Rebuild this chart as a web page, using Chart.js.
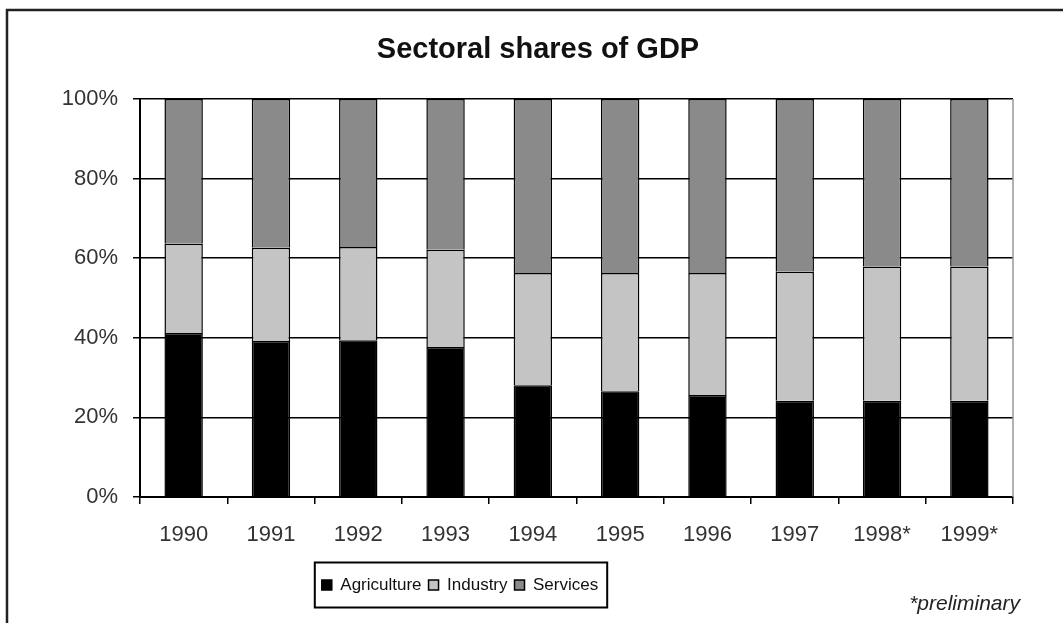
<!DOCTYPE html>
<html>
<head>
<meta charset="utf-8">
<script src="https://cdn.jsdelivr.net/npm/chart.js@4"></script>
<style>
  body { margin: 0; background: #fff; }
</style>
</head>
<body>
<canvas id="myChart" width="1063" height="623"></canvas>
<script>
const years = ['1990', '1991', '1992', '1993', '1994', '1995', '1996', '1997', '1998*', '1999*'];
const agriculture = [41.2, 39.2, 39.4, 37.7, 28.1, 26.6, 25.6, 24.2, 24.2, 24.2];
const industry = [22.4, 23.4, 23.4, 24.4, 28.2, 29.7, 30.7, 32.4, 33.7, 33.7];
const services = [36.4, 37.4, 37.2, 37.9, 43.7, 43.7, 43.7, 43.4, 42.1, 42.1];
const yTicks = [0, 20, 40, 60, 80, 100];

const font = "'Liberation Sans', Arial, sans-serif";
const ctx = document.getElementById('myChart');

function shiftBox(box, centre) {
    const dx = centre - (box.left + box.right) / 2;
    box.left += dx;
    box.right += dx;
}

// frame, right plot edge, legend border and footnote
const decorations = {
    id: 'decorations',
    beforeDraw(chart) {
        const c = chart.ctx;
        c.save();
        c.fillStyle = '#fff';
        c.fillRect(0, 0, chart.width, chart.height);
        c.strokeStyle = '#222';
        c.lineWidth = 2.5;
        c.beginPath();
        c.moveTo(7, chart.height);
        c.lineTo(7, 10);
        c.lineTo(chart.width, 10);
        c.stroke();
        c.restore();
    },
    afterLayout(chart) {
        // title and legend are off-centre in the original
        shiftBox(chart.titleBlock, 538);
        shiftBox(chart.legend, 460);
    },
    beforeDatasetsDraw(chart) {
        const c = chart.ctx;
        const area = chart.chartArea;
        c.save();
        c.strokeStyle = '#999';
        c.lineWidth = 1.5;
        c.beginPath();
        c.moveTo(area.right, area.top);
        c.lineTo(area.right, area.bottom);
        c.stroke();
        c.restore();
    },
    afterDraw(chart) {
        const c = chart.ctx;
        const boxes = chart.legend.legendHitBoxes;
        c.save();
        if (boxes && boxes.length) {
            const first = boxes[0];
            const last = boxes[boxes.length - 1];
            c.strokeStyle = '#000';
            c.lineWidth = 2;
            c.strokeRect(first.left - 7, first.top - 14, last.left + last.width + 9 - (first.left - 7), first.height + 28);
        }
        c.fillStyle = '#222';
        c.font = 'italic 21px ' + font;
        c.textAlign = 'right';
        c.textBaseline = 'middle';
        c.fillText('*preliminary', 1020, 604);
        c.restore();
    }
};

let chart = new Chart(ctx, {
    type: 'bar',
    data: {
        labels: years,
        datasets: [{
            label: 'Agriculture',
            data: agriculture,
            backgroundColor: '#000',
            borderColor: '#000',
            borderWidth: 1.5
        }, {
            label: 'Industry',
            data: industry,
            backgroundColor: '#c4c4c4',
            borderColor: '#000',
            borderWidth: 1.5
        }, {
            label: 'Services',
            data: services,
            backgroundColor: '#8a8a8a',
            borderColor: '#000',
            borderWidth: 1.5
        }]
    },
    options: {
        responsive: false,
        animation: false,
        barPercentage: 0.44,
        categoryPercentage: 1,
        layout: {
            padding: { left: 21, right: 50, top: 0, bottom: 19.5 }
        },
        plugins: {
            title: {
                display: true,
                text: 'Sectoral shares of GDP',
                color: '#111',
                font: { family: font, size: 29, weight: 'bold' },
                padding: { top: 32.6, bottom: 31.6 }
            },
            legend: {
                position: 'bottom',
                labels: {
                    color: '#111',
                    font: { family: font, size: 17 },
                    boxWidth: 10,
                    boxHeight: 10,
                    padding: 7
                }
            },
            tooltip: { enabled: false }
        },
        scales: {
            x: {
                stacked: true,
                grid: {
                    display: true,
                    drawOnChartArea: false,
                    offset: true,
                    tickLength: 7,
                    color: '#000',
                    lineWidth: 1.5
                },
                border: { color: '#000', width: 2 },
                ticks: {
                    color: '#333',
                    font: { family: font, size: 22 },
                    padding: 18
                },
                afterFit(scale) { scale.height = 72.5; }
            },
            y: {
                stacked: true,
                min: 0,
                max: 100,
                afterBuildTicks(scale) {
                    scale.ticks = yTicks.map(v => ({ value: v }));
                },
                grid: {
                    color: '#000',
                    lineWidth: 1.5,
                    tickLength: 7
                },
                border: { color: '#000', width: 2 },
                ticks: {
                    color: '#333',
                    font: { family: font, size: 22 },
                    padding: 15,
                    callback: v => v + '%'
                },
                afterFit(scale) { scale.width = 119; }
            }
        }
    },
    plugins: [decorations]
});
</script>
</body>
</html>
